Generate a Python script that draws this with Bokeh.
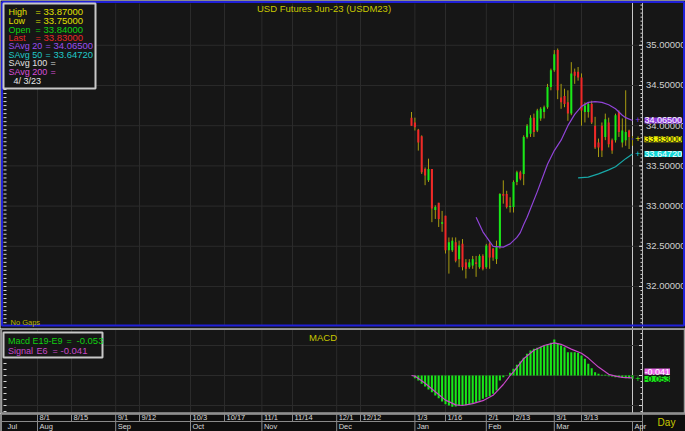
import numpy as np
import pandas as pd
from bokeh.plotting import figure
from bokeh.layouts import column
from bokeh.models import (Range1d, Span, Label, BoxAnnotation, ColumnDataSource)
from bokeh.core.properties import value
from bokeh.embed import file_html
from bokeh.resources import INLINE

# ------------------------------------------------------------------ data
AXIS_ORIGIN = "2022-08-01"      # trading-day index 0 of the time axis
FIRST_BAR = "2023-01-02"
LAST_BAR = "2023-04-03"

opens = [34.10, 34.04, 33.95, 33.87, 33.46, 33.32, 33.46, 32.95, 33.04, 32.78,
         32.88, 32.45, 32.45, 32.55, 32.34, 32.53, 32.30, 32.24, 32.26, 32.30,
         32.24, 32.38, 32.24, 32.53, 32.47, 32.34, 32.49, 33.15, 33.15, 32.99,
         32.99, 33.30, 33.42, 33.40, 33.86, 33.90, 34.10, 33.94, 34.09, 34.17,
         34.23, 34.48, 34.69, 34.94, 34.35, 34.37, 34.29, 34.15, 34.67, 34.67,
         34.60, 34.17, 34.17, 34.27, 34.00, 33.79, 34.00, 33.86, 34.04, 33.82,
         33.82, 34.17, 33.79, 33.82, 33.94, 33.84]
highs = [34.17, 34.10, 33.96, 33.88, 33.48, 33.59, 33.46, 33.01, 33.04, 32.94,
         32.88, 32.61, 32.61, 32.61, 32.57, 32.59, 32.34, 32.34, 32.38, 32.38,
         32.40, 32.40, 32.53, 32.55, 32.48, 32.57, 33.16, 33.32, 33.19, 33.11,
         33.32, 33.44, 33.44, 33.88, 34.02, 34.13, 34.15, 34.21, 34.23, 34.25,
         34.52, 34.71, 34.94, 34.96, 34.52, 34.46, 34.44, 34.79, 34.71, 34.73,
         34.65, 34.29, 34.29, 34.31, 34.11, 33.84, 34.04, 34.15, 34.10, 33.84,
         34.15, 34.19, 34.09, 34.44, 33.95, 33.87]
lows = [34.00, 33.94, 33.69, 33.40, 33.26, 33.30, 32.80, 32.84, 32.74, 32.68,
        32.41, 32.16, 32.43, 32.30, 32.24, 32.20, 32.10, 32.22, 32.22, 32.12,
        32.22, 32.20, 32.22, 32.22, 32.32, 32.28, 32.47, 33.03, 32.97, 32.92,
        32.92, 33.26, 33.32, 33.26, 33.84, 33.86, 33.86, 33.92, 34.06, 34.09,
        34.21, 34.44, 34.67, 34.33, 34.21, 34.23, 34.06, 34.13, 34.52, 34.56,
        34.00, 34.04, 34.10, 34.02, 33.71, 33.61, 33.61, 33.82, 33.73, 33.65,
        33.79, 33.86, 33.73, 33.75, 33.71, 33.75]
closes = [34.00, 33.98, 33.79, 33.42, 33.38, 33.46, 32.97, 32.99, 32.84, 32.80,
          32.45, 32.55, 32.57, 32.32, 32.51, 32.24, 32.22, 32.30, 32.34, 32.28,
          32.38, 32.22, 32.51, 32.36, 32.36, 32.49, 33.15, 33.13, 32.99, 33.00,
          33.30, 33.42, 33.34, 33.86, 34.00, 34.10, 33.92, 34.19, 34.21, 34.23,
          34.48, 34.69, 34.89, 34.44, 34.29, 34.27, 34.15, 34.65, 34.62, 34.60,
          34.19, 34.25, 34.27, 34.04, 33.73, 33.73, 33.69, 34.08, 33.77, 33.69,
          34.13, 33.92, 33.94, 33.92, 33.86, 33.83]

# simple moving averages (bar number counted from the first bar)
sma20_bar = [19, 21, 24, 27, 29, 31, 32, 33, 34, 37, 40, 42, 44, 46, 48, 50,
             52, 54, 56, 58, 60, 62, 63, 65]
sma20_val = [32.86, 32.68, 32.50, 32.49, 32.53, 32.61, 32.67, 32.77, 32.86, 33.18,
             33.52, 33.69, 33.82, 34.00, 34.14, 34.24, 34.29, 34.30, 34.29, 34.26,
             34.21, 34.13, 34.10, 34.065]
sma50_bar = [49, 52, 55, 58, 60, 63, 65]
sma50_val = [33.35, 33.36, 33.40, 33.45, 33.49, 33.59, 33.6472]

# MACD histogram (bars 1..65) and signal line
macd_first_bar = 1
macd_val = [-0.044, -0.083, -0.139, -0.183, -0.233, -0.278, -0.333, -0.378, -0.433, -0.478,
            -0.500, -0.522, -0.517, -0.506, -0.500, -0.494, -0.483, -0.472, -0.444, -0.422,
            -0.389, -0.361, -0.344, -0.306, -0.250, -0.083, -0.028, 0.004, 0.044, 0.111,
            0.178, 0.233, 0.294, 0.361, 0.417, 0.444, 0.461, 0.478, 0.500, 0.517,
            0.544, 0.600, 0.528, 0.500, 0.472, 0.389, 0.389, 0.389, 0.378, 0.333,
            0.278, 0.194, 0.122, 0.056, 0.028, 0.011, 0.011, -0.011, -0.017, -0.028,
            -0.028, -0.039, -0.044, -0.044, -0.053]
signal_bar = [0, 1, 4, 7, 10, 13, 15, 18, 21, 24, 27, 29, 30, 33, 36, 39, 42, 44,
              47, 50, 52, 55, 58, 60, 62, 65]
signal_val = [0.0, -0.01, -0.13, -0.27, -0.41, -0.49, -0.50, -0.47, -0.42, -0.33,
              -0.15, 0.0, 0.06, 0.28, 0.42, 0.50, 0.545, 0.52, 0.44, 0.37,
              0.29, 0.14, 0.02, -0.01, -0.03, -0.041]

tick_dates = ["2022-08-01", "2022-08-15", "2022-09-01", "2022-09-12", "2022-10-03",
              "2022-10-17", "2022-11-01", "2022-11-14", "2022-12-01", "2022-12-12",
              "2023-01-03", "2023-01-16", "2023-02-01", "2023-02-13", "2023-03-01",
              "2023-03-13"]
tick_labels = ["8/1", "8/15", "9/1", "9/12", "10/3", "10/17", "11/1", "11/14", "12/1",
               "12/12", "1/3", "1/16", "2/1", "2/13", "3/1", "3/13"]
month_dates = ["2022-07-01", "2022-08-01", "2022-09-01", "2022-10-03", "2022-11-01",
               "2022-12-01", "2023-01-03", "2023-02-01", "2023-03-01", "2023-04-03"]
month_labels = ["Jul", "Aug", "Sep", "Oct", "Nov", "Dec", "Jan", "Feb", "Mar", "Apr"]

price_ticks = [32.0, 32.5, 33.0, 33.5, 34.0, 34.5, 35.0]
macd_grid = [-0.5, 0.0, 0.5]

# ------------------------------------------------------------------ layout helpers
W = 685

def ix(rx):                   # pixel x -> trading-day index
    return (rx - 37) / 3.4

def tday(dstr):
    return int(np.busday_count(AXIS_ORIGIN, dstr))

bar_dates = pd.bdate_range(FIRST_BAR, LAST_BAR)
bar_x = np.array([tday(dd.strftime("%Y-%m-%d")) for dd in bar_dates])
tick_x = [tday(t) for t in tick_dates]
PLOT_L, PLOT_R = ix(5), ix(642)
month_x = [max(tday(t), PLOT_L) for t in month_dates]

o = np.array(opens); h = np.array(highs); l = np.array(lows); c = np.array(closes)
top = np.maximum(o, c); bot = np.minimum(o, c)
thin = (top - bot) < 0.012
mid = (o + c) / 2
top = np.where(thin, mid + 0.006, top)
bot = np.where(thin, mid - 0.006, bot)
colors = np.where(c > o, "#18e818", np.where(c < o, "#f02828", "#e0e000")).tolist()
colors[-1] = "#2a2ae0"

BG = "#161616"
GRID = "#2b2b2b"
TICK = "#d8d8d8"
FONT = "Liberation Sans"
x_range = Range1d(ix(0), ix(W))


def add_label(fig, text, x, y, color, size="9px", align="left", y_units="screen",
              bg=None):
    kw = dict(x=x, y=y, text=text, x_units="screen", y_units=y_units,
              text_color=color, text_font=FONT, text_font_size=size,
              text_align=align, text_baseline="middle")
    if bg is not None:
        kw["background_fill_color"] = bg
    fig.add_layout(Label(**kw))


def add_box(fig, left, right, top_, bottom, line_color, line_width, fill=None):
    fig.add_layout(BoxAnnotation(left=left, right=right, top=top_, bottom=bottom,
                                 left_units="screen", right_units="screen",
                                 top_units="screen", bottom_units="screen",
                                 fill_color=fill if fill else BG,
                                 fill_alpha=1 if fill else 0,
                                 line_color=line_color, line_alpha=1,
                                 line_width=line_width))


def panel(height, y0, y1, bg=BG):
    f = figure(width=W, height=height, x_range=x_range, y_range=Range1d(y0, y1),
               output_backend="svg", toolbar_location=None, x_axis_location=None,
               y_axis_location=None, min_border=0, background_fill_color=bg,
               border_fill_color=bg, outline_line_color=None)
    f.xgrid.visible = False
    f.ygrid.visible = False
    return f


def axis_marks(f, ticks, minor):
    n = len(minor)
    f.add_layout(Span(location=PLOT_R, dimension="height", line_color="#b8b8b8",
                      line_width=1))
    f.segment(x0=[ix(640)] * n, x1=[PLOT_R] * n, y0=minor, y1=minor,
              line_color=TICK, line_width=1)
    f.segment(x0=[ix(638.5)] * len(ticks), x1=[PLOT_R] * len(ticks), y0=ticks, y1=ticks,
              line_color=TICK, line_width=1)
    f.segment(x0=[ix(3)] * n, x1=[ix(6)] * n, y0=minor, y1=minor,
              line_color=TICK, line_width=1)


# ------------------------------------------------------------------ price panel
PH = 328                                  # covers y 0..328

def pv(ry):                               # pixel y -> price
    return 35.557 - ry / 80.4

def sy_p(ry):
    return PH - ry

p = panel(PH, pv(PH), pv(0))
p.segment(x0=[PLOT_L] * len(price_ticks), x1=[PLOT_R] * len(price_ticks),
          y0=price_ticks, y1=price_ticks, line_color=GRID, line_width=1)
p.segment(x0=tick_x, x1=tick_x, y0=[pv(325)] * len(tick_x),
          y1=[pv(3)] * len(tick_x), line_color=GRID, line_width=1)
p.add_layout(Span(location=bar_x[-1], dimension="height", line_color="#c8c8c8",
                  line_width=1, level="underlay"))
minor_p = [round(v, 2) for v in np.arange(31.55, 35.52, 0.05)]
axis_marks(p, price_ticks, minor_p)
p.text(x=[ix(645.5)] * len(price_ticks), y=price_ticks,
       text=["%.5f" % t for t in price_ticks], text_align="left",
       text_baseline="middle", text_font=value(FONT), text_font_size="9.5px",
       text_color="#d0d0d0")

src = ColumnDataSource(dict(x=bar_x, h=h, l=l, top=top, bot=bot, color=colors))
p.segment(x0="x", y0="l", x1="x", y1="h", source=src, line_color="#a89c10", line_width=1)
p.vbar(x="x", width=0.6, top="top", bottom="bot", fill_color="color", line_color=None,
       source=src)
p.line(bar_x[sma20_bar], sma20_val, line_color="#9044d8", line_width=1.2)
p.line(bar_x[sma50_bar], sma50_val, line_color="#18a8a8", line_width=1.2)

# outer blue frame of the active panel
add_box(p, 1.5, W - 1.5, PH - 1.5, sy_p(325), "#2020d8", 2)

add_label(p, "USD Futures Jun-23 (USDM23)", 323.5, sy_p(7.5), "#c8c800",
          size="9.5px", align="center")
add_label(p, "No Gaps", 10, sy_p(321.5), "#b8b800", size="7.5px")

# legend box
add_box(p, 3, 95, sy_p(3), sy_p(88), "#c8c8c8", 2, fill=BG)
leg_names = ["High", "Low", "Open", "Last", "SAvg 20", "SAvg 50", "SAvg 100", "SAvg 200"]
leg_vals = [highs[-1], lows[-1], opens[-1], closes[-1], sma20_val[-1], sma50_val[-1],
            None, None]
leg_colors = ["#e0e000", "#e0e000", "#10d010", "#e82828", "#9a4ef0", "#20c8c8",
              "#e0e0e0", "#d850d8"]
leg_y = [11.7, 20.7, 29, 37.3, 45.7, 54, 62.3, 71]
for name, val, col, ry in zip(leg_names, leg_vals, leg_colors, leg_y):
    if name.startswith("SAvg"):
        eqx, vx = (45, 53) if len(name) == 7 else (50, 58)
    else:
        eqx, vx = 35, 43
    add_label(p, name, 8, sy_p(ry), col, size="9px")
    add_label(p, "=", eqx, sy_p(ry), col, size="9px")
    if val is not None:
        add_label(p, "%.5f" % val, vx, sy_p(ry), col, size="9.5px")
add_label(p, "4/ 3/23", 13, sy_p(80), "#e8e8e8", size="9px")

# value flags on the price axis
flags = [(sma20_val[-1], "#9040e0", "#ffffff"), (closes[-1], "#f0f000", "#101010"),
         (sma50_val[-1], "#10d8d8", "#ffffff")]
for v, bgc, tc in flags:
    add_label(p, "%.5f" % v, 644, v, tc, size="9px", y_units="data", bg=bgc)
    add_label(p, "+", 637.5, v, bgc, size="9px", align="center", y_units="data")

# ------------------------------------------------------------------ MACD panel
MH = 85                                   # covers y 328..413

def mv(ry):
    return (375 - ry) / 60.0

def sy_m(ry):
    return MH - (ry - 328)

m = panel(MH, mv(413), mv(328))
m.segment(x0=[PLOT_L] * len(macd_grid), x1=[PLOT_R] * len(macd_grid),
          y0=macd_grid, y1=macd_grid, line_color=GRID, line_width=1)
m.segment(x0=tick_x, x1=tick_x, y0=[mv(413)] * len(tick_x), y1=[mv(329)] * len(tick_x),
          line_color=GRID, line_width=1)
m.add_layout(Span(location=bar_x[-1], dimension="height", line_color="#c8c8c8",
                  line_width=1, level="underlay"))
minor_m = [round(v, 2) for v in np.arange(-0.6, 0.76, 0.1)]
axis_marks(m, macd_grid, minor_m)

macd_x = bar_x[macd_first_bar:macd_first_bar + len(macd_val)]
m.vbar(x=macd_x, width=0.6, top=macd_val, bottom=0, fill_color="#18e818",
       line_color=None)
m.line(bar_x[signal_bar], signal_val, line_color="#c848c8", line_width=1.2)

add_box(m, 1, W - 1, sy_m(328.7), 0.5, "#9a9a9a", 1.5)
add_label(m, "MACD", 322.5, sy_m(336.5), "#c8c800", size="9.5px", align="center")
add_box(m, 3, 102, sy_m(332), sy_m(357), "#c8c8c8", 2, fill=BG)
add_label(m, "Macd", 7.5, sy_m(340.7), "#10d010", size="9px")
add_label(m, "E19-E9", 32, sy_m(340.7), "#10d010", size="9px")
add_label(m, "=", 66, sy_m(340.7), "#10d010", size="9px")
add_label(m, "%.3f" % macd_val[-1], 76, sy_m(340.7), "#10d010", size="9.5px")
add_label(m, "Signal", 7.5, sy_m(350), "#c848c8", size="9px")
add_label(m, "E6", 36, sy_m(350), "#c848c8", size="9px")
add_label(m, "=", 52, sy_m(350), "#c848c8", size="9px")
add_label(m, "%.3f" % signal_val[-1], 60, sy_m(350), "#c848c8", size="9.5px")

add_label(m, "%.3f" % signal_val[-1], 644, sy_m(371), "#ffffff", size="9px",
          bg="#e868e8")
add_label(m, "%.3f" % macd_val[-1], 644, sy_m(378.4), "#101010", size="9px",
          bg="#18e818")
add_label(m, "+", 637.5, sy_m(378), "#18e818", size="9px", align="center")

# ------------------------------------------------------------------ date strip
DH = 18                                   # covers y 413..431
d = panel(DH, 0, 18, bg="#0e0e0e")
LINE = "#8a8a8a"
d.segment(x0=[ix(0)], x1=[ix(W)], y0=[17.4], y1=[17.4], line_color="#a0a0a0",
          line_width=1.5)
d.segment(x0=[ix(0)], x1=[PLOT_R], y0=[10], y1=[10], line_color=LINE, line_width=1)
d.segment(x0=[PLOT_R, ix(1)], x1=[PLOT_R, ix(1)], y0=[0, 0], y1=[18, 18],
          line_color=LINE, line_width=1)
d.segment(x0=tick_x, y0=[10] * len(tick_x), x1=tick_x, y1=[18] * len(tick_x),
          line_color=LINE, line_width=1)
d.segment(x0=month_x[1:], y0=[0] * (len(month_x) - 1), x1=month_x[1:],
          y1=[10] * (len(month_x) - 1), line_color=LINE, line_width=1)
d.text(x=tick_x, y=[14] * len(tick_x), text=tick_labels, x_offset=2,
       text_align="left", text_baseline="middle", text_font=value(FONT),
       text_font_size="7.5px", text_color="#d8d8d8")
d.text(x=month_x, y=[5] * len(month_x), text=month_labels, x_offset=2,
       text_align="left", text_baseline="middle", text_font=value(FONT),
       text_font_size="7.5px", text_color="#d8d8d8")
add_label(d, "Day", 666, 9, "#c8c800", size="10px", align="center", y_units="data")

layout = column(p, m, d, spacing=0)
open("out.html", "w").write(file_html(layout, INLINE))
